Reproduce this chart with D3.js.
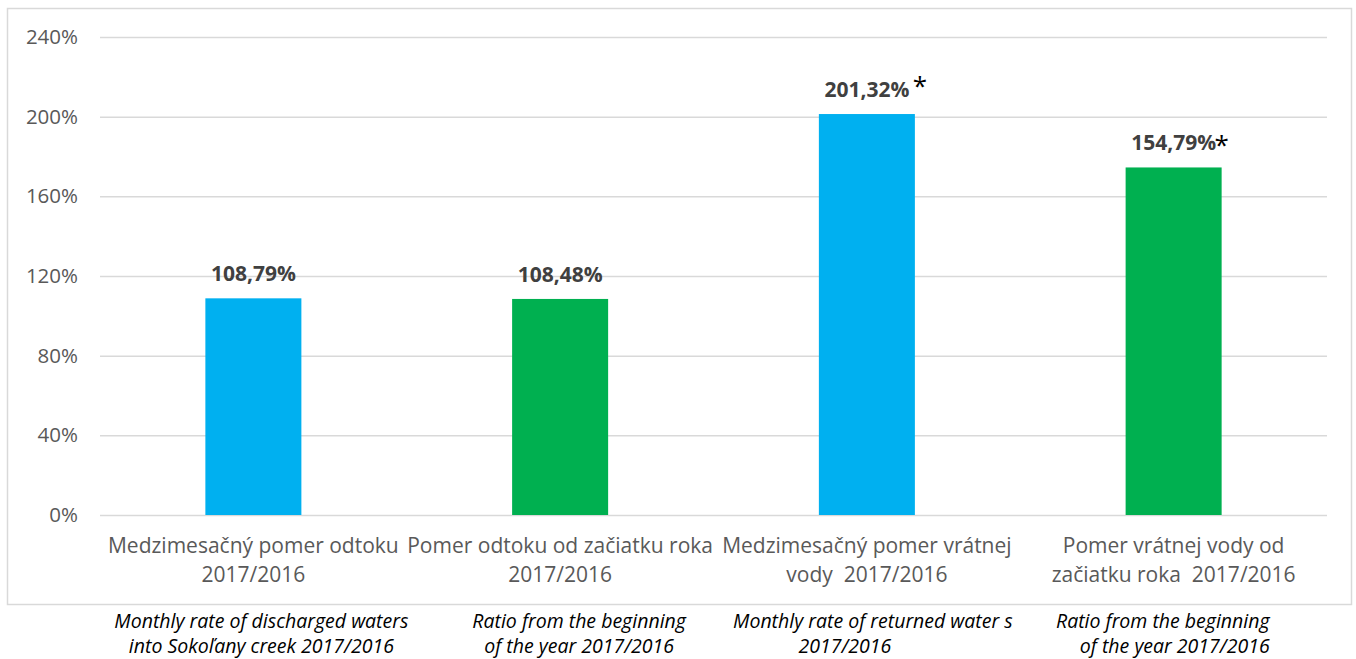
<!DOCTYPE html>
<html><head><meta charset="utf-8">
<script src="https://cdn.jsdelivr.net/npm/d3@7"></script>
<style>body{margin:0;background:#fff;} text{font-family:"Open Sans",sans-serif;}</style>
</head><body>
<svg id="c" width="1356" height="659"></svg>
<script>
const categories = [
  ["Medzimesačný pomer odtoku", "2017/2016"],
  ["Pomer odtoku od začiatku roka", "2017/2016"],
  ["Medzimesačný pomer vrátnej", "vody  2017/2016"],
  ["Pomer vrátnej vody od", "začiatku roka  2017/2016"]
];
const values = [108.79, 108.48, 201.32, 174.5];
const valueLabels = ["108,79%", "108,48%", "201,32%", "154,79%"];
const asterisks = ["", "", "*", "*"];
const barColors = ["#00B0F0", "#00B050", "#00B0F0", "#00B050"];
const yTicks = [0, 40, 80, 120, 160, 200, 240];
const notes = [
  ["Monthly rate of discharged waters", "into Sokoľany creek 2017/2016"],
  ["Ratio from the beginning", "of the year 2017/2016"],
  ["Monthly rate of returned water s", "2017/2016"],
  ["Ratio from the beginning", "of the year 2017/2016"]
];

const svg = d3.select("#c");
svg.append("rect").attr("width",1356).attr("height",659).attr("fill","#fff");
svg.append("rect").attr("x",7.5).attr("y",8.5).attr("width",1344).attr("height",596)
  .attr("fill","none").attr("stroke","#d9d9d9").attr("stroke-width",1.5);

const ids = categories.map((d,i)=>i);
const x = d3.scaleBand().domain(ids).range([100,1327]).paddingInner(0.687).paddingOuter(0.3435);
const y = d3.scaleLinear().domain([0,240]).range([515,37]);

// grid
svg.append("g").selectAll("line").data(yTicks).join("line")
  .attr("x1",100).attr("x2",1327).attr("y1",d=>y(d)+0.5).attr("y2",d=>y(d)+0.5)
  .attr("stroke","#d9d9d9").attr("stroke-width",1.5);

// y axis labels
const yAxis = d3.axisLeft(y).tickValues(yTicks).tickFormat(d=>d+"%").tickSize(0).tickPadding(0);
const ya = svg.append("g").attr("transform","translate(78,0)").call(yAxis);
ya.select(".domain").remove();
ya.selectAll("text").attr("fill","#595959").style("font-size","20.5px").style("font-family","'Open Sans',sans-serif");

// bars
svg.append("g").selectAll("rect").data(values).join("rect")
  .attr("x",(d,i)=>x(i)).attr("width",x.bandwidth())
  .attr("y",d=>y(d)).attr("height",d=>y(0)-y(d))
  .attr("fill",(d,i)=>barColors[i]);

// value labels
svg.append("g").selectAll("text").data(values).join("text")
  .attr("x",(d,i)=>x(i)+x.bandwidth()/2).attr("y",d=>y(d)-17)
  .attr("text-anchor","middle").attr("font-weight","bold").attr("font-size","21px")
  .attr("fill","#404040").text((d,i)=>valueLabels[i]);

const astDx = [0,0,53,48];
const astDy = [0,0,-2,4];
svg.append("g").selectAll("text").data(values).join("text")
  .attr("x",(d,i)=>x(i)+x.bandwidth()/2+astDx[i]).attr("y",(d,i)=>y(d)-17+astDy[i])
  .attr("text-anchor","middle").attr("font-size","26px")
  .attr("fill","#000").text((d,i)=>asterisks[i]);

// category labels
const cat = svg.append("g").selectAll("text").data(categories).join("text")
  .attr("text-anchor","middle").attr("fill","#595959").attr("font-size","21px");
cat.each(function(d,i){
  const t = d3.select(this);
  d.forEach((line,j)=>{
    t.append("tspan").attr("x",x(i)+x.bandwidth()/2).attr("y",553+j*29).text(line);
  });
});
cat.style("white-space","pre");

// notes (below the chart)
const noteAnchor = ["middle","middle","middle","end"];
const noteDx = [[8,8],[19,19],[6,-22],[96,96]];
const ng = svg.append("g").selectAll("text").data(notes).join("text")
  .attr("font-style","italic").attr("fill","#000").attr("font-size","19.5px")
  .attr("text-anchor",(d,i)=>noteAnchor[i]).style("white-space","pre");
ng.each(function(d,i){
  const t = d3.select(this);
  d.forEach((line,j)=>{
    t.append("tspan").attr("x",x(i)+x.bandwidth()/2+noteDx[i][j]).attr("y",628+j*25).text(line);
  });
});
</script>
</body></html>
